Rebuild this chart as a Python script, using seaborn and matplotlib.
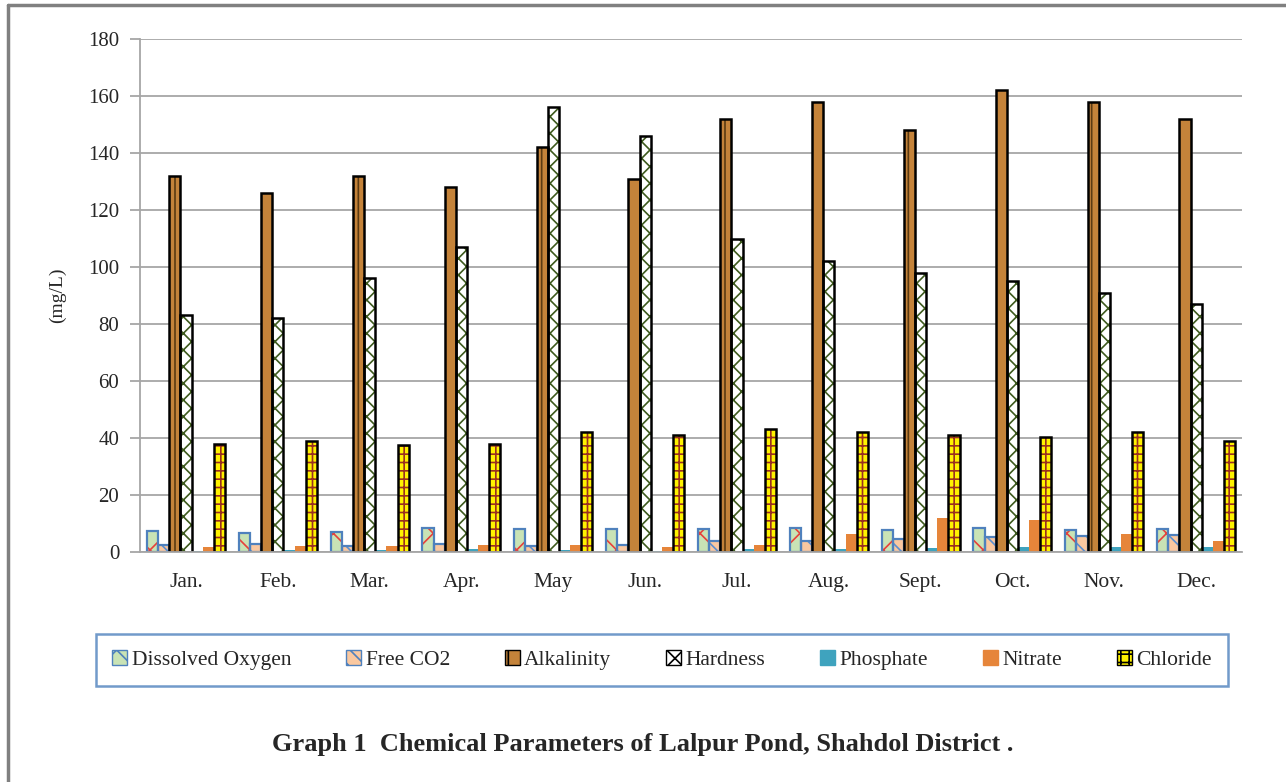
import numpy as np
import pandas as pd
import matplotlib
matplotlib.use("Agg")
import matplotlib.pyplot as plt
from matplotlib.patches import Rectangle
from matplotlib.lines import Line2D
import seaborn as sns

months = ["Jan.", "Feb.", "Mar.", "Apr.", "May", "Jun.", "Jul.", "Aug.", "Sept.", "Oct.", "Nov.", "Dec."]
dissolved_oxygen = [7.3, 6.5, 7.0, 8.3, 8.2, 8.2, 8.2, 8.3, 7.8, 8.3, 7.8, 8.2]
free_co2 = [2.4, 2.8, 2.0, 2.8, 2.0, 2.4, 4.0, 4.0, 4.5, 5.2, 5.5, 5.8]
alkalinity = [132, 126, 132, 128, 142, 131, 152, 158, 148, 162, 158, 152]
hardness = [83, 82, 96, 107, 156, 146, 110, 102, 98, 95, 91, 87]
phosphate = [0.5, 0.6, 0.8, 1.0, 0.6, 0.5, 1.0, 1.0, 1.4, 1.8, 1.8, 1.8]
nitrate = [1.8, 2.2, 2.2, 2.3, 2.3, 1.8, 2.3, 6.2, 11.8, 11.2, 6.2, 4.0]
chloride = [38, 39, 37.5, 38, 42, 41, 43, 42, 41, 40.5, 42, 39]

parameters = ["Dissolved Oxygen", "Free CO2", "Alkalinity", "Hardness", "Phosphate", "Nitrate", "Chloride"]
series = [dissolved_oxygen, free_co2, alkalinity, hardness, phosphate, nitrate, chloride]

# face colour, hatch, hatch colour, outline colour, outline width
styles = {
    "Dissolved Oxygen": ("#C9E3B5", "x", "#E8403A", "#4F81BD", 1.6),
    "Free CO2": ("#FAC8A0", "\\\\", "#5B8FD0", "#4F81BD", 1.6),
    "Alkalinity": ("#C4833A", "|", "#5A3A12", "black", 1.8),
    "Hardness": ("white", "//\\\\", "#3E5A1E", "black", 1.8),
    "Phosphate": ("#3FA3BE", "", None, "#3FA3BE", 0.0),
    "Nitrate": ("#E6853A", "", None, "#E6853A", 0.0),
    "Chloride": ("#FFF200", "++", "#9A3020", "black", 1.8),
}

df = pd.DataFrame({
    "Month": [m for m in months for _ in parameters],
    "Parameter": [p for _ in months for p in parameters],
    "Value": [series[j][i] for i in range(len(months)) for j in range(len(parameters))],
})

sns.set_theme(style="white")
plt.rcParams["font.family"] = ["Liberation Serif", "DejaVu Serif"]
plt.rcParams["hatch.linewidth"] = 1.2

fig = plt.figure(figsize=(12.86, 7.82), dpi=100)
ax = fig.add_axes([0.1089, 0.2941, 0.8569, 0.656])

palette = {p: styles[p][0] for p in parameters}
sns.barplot(data=df, x="Month", y="Value", hue="Parameter", order=months,
            hue_order=parameters, palette=palette, width=0.85, gap=0,
            saturation=1, ax=ax, legend=False)

# Apply hatches and outlines per series
bars = [p for p in ax.patches if isinstance(p, Rectangle)]
n = len(months)
for j, name in enumerate(parameters):
    face, hatch, hcol, ecol, lw = styles[name]
    for i in range(n):
        bar = bars[j * n + i]
        bar.set_facecolor(face)
        if hatch:
            bar.set_hatch(hatch)
            bar.set_edgecolor(hcol)
            bar.set_linewidth(0)
            outline = Rectangle(bar.get_xy(), bar.get_width(), bar.get_height(),
                                fill=False, edgecolor=ecol, linewidth=lw, zorder=bar.get_zorder() + 0.1)
            ax.add_patch(outline)
        else:
            bar.set_edgecolor(face)
            bar.set_linewidth(0)

ax.set_ylim(0, 180)
ax.set_yticks(np.arange(0, 181, 20))
ax.set_xlim(-0.5, len(months) - 0.5)
ax.set_xlabel("")
ax.set_ylabel("(mg/L)", fontsize=14, labelpad=16)
ax.yaxis.grid(True, color="#A6A6A6", linewidth=1.3)
ax.set_axisbelow(True)
for side in ["top", "right"]:
    ax.spines[side].set_visible(False)
for side in ["left", "bottom"]:
    ax.spines[side].set_color("#A6A6A6")
    ax.spines[side].set_linewidth(1.3)
ax.tick_params(axis="y", which="major", left=True, length=7, width=1.3, color="#A6A6A6",
               labelsize=15, pad=8)
ax.tick_params(axis="x", bottom=False, labelsize=15.5, pad=9)

# Legend in a framed box below the chart
handles = []
for name in parameters:
    face, hatch, hcol, ecol, lw = styles[name]
    if hatch:
        handles.append(Rectangle((0, 0), 1, 1, facecolor=face, hatch=hatch,
                                 edgecolor=ecol, linewidth=1.0))
    else:
        handles.append(Rectangle((0, 0), 1, 1, facecolor=face, edgecolor=face))
leg = fig.legend(handles, parameters, loc="center", bbox_to_anchor=(0.5148, 0.156),
                 ncol=7, frameon=True, fontsize=15.5, handlelength=0.7, handleheight=0.7,
                 handletextpad=0.2, columnspacing=2.55, borderpad=0.75, fancybox=False)
leg.get_frame().set_edgecolor("#4F81BD")
leg.get_frame().set_linewidth(1.8)

fig.text(0.5, 0.0485, "Graph 1  Chemical Parameters of Lalpur Pond, Shahdol District .",
         ha="center", va="center", fontsize=19, fontweight="bold")

# Page frame lines along the left and top edges
fig.add_artist(Line2D([0.0065, 0.0065], [0.0, 0.9935], color="#808080", linewidth=2.5))
fig.add_artist(Line2D([0.0065, 1.0], [0.9935, 0.9935], color="#808080", linewidth=2.5))

fig.savefig("out.png", dpi=100)
